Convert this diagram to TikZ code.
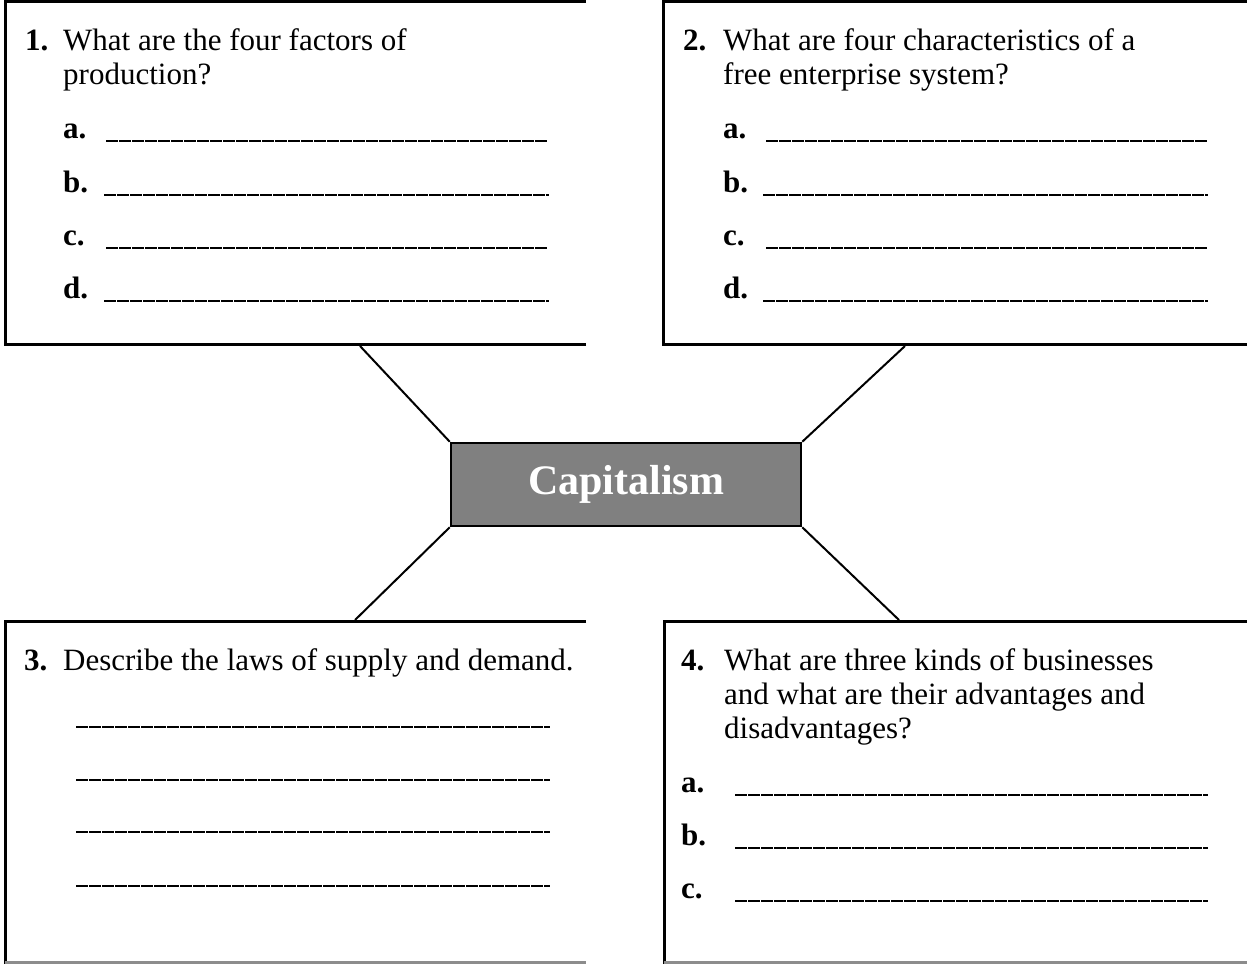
\documentclass[tikz,border=0pt]{standalone}
\usepackage{fontspec}
\setmainfont{Liberation Serif}
\definecolor{coregray}{RGB}{128,128,128}
\definecolor{shadowgray}{RGB}{140,140,140}
\begin{document}
\begin{tikzpicture}[x=1pt,y=-1pt,
  txt/.style={anchor=base west, inner sep=0pt, font=\fontsize{31}{34}\selectfont},
  lbl/.style={anchor=base west, inner sep=0pt, font=\fontsize{31}{34}\selectfont\bfseries},
  blank/.style={line width=1.6pt, black, dash pattern=on 12pt off 1pt},
  frame/.style={line width=3pt, black},
  bottomedge/.style={line width=2.5pt, shadowgray},
  spoke/.style={line width=2pt, black},
  core/.style={draw=black, line width=2.5pt, fill=coregray, minimum width=350pt, minimum height=83pt, inner sep=0pt, text=white, font=\fontsize{42}{46}\selectfont\bfseries}
]
\useasboundingbox (0,0) rectangle (1247,964);
\begin{scope}
\clip (0,0) rectangle (1247,964);
% frames
\draw[frame] (586,344) -- (5,344) -- (5,1.5) -- (586,1.5);
\draw[frame] (1250,1.5) -- (663.5,1.5) -- (663.5,344) -- (1250,344);
\draw[frame] (586,621) -- (5,621) -- (5,964);
\draw[bottomedge] (5,962.7) -- (586,962.7);
\draw[frame] (1250,621) -- (664,621) -- (664,964);
\draw[bottomedge] (664,962.7) -- (1250,962.7);
\end{scope}

% centre
\node[core] (cap) at (626,484.5) {Capitalism};
\coordinate (c1) at (360,346);
\coordinate (c2) at (905,346);
\coordinate (c3) at (355,620);
\coordinate (c4) at (899,620);
\draw[spoke] (cap.north west) -- (c1);
\draw[spoke] (cap.north east) -- (c2);
\draw[spoke] (cap.south west) -- (c3);
\draw[spoke] (cap.south east) -- (c4);

% box 1
\node[lbl] (n1) at (25,50) {1.};
\node[txt] (q1a) at (63,50) {What are the four factors of};
\node[txt] (q1b) at (63,84) {production?};
\node[lbl] (l1a) at (63,138) {a.};
\node[lbl] (l1b) at (63,192) {b.};
\node[lbl] (l1c) at (63,245) {c.};
\node[lbl] (l1d) at (63,298) {d.};
\draw[blank] (106,141) -- (548,141);
\draw[blank] (104,195) -- (549,195);
\draw[blank] (106,248) -- (548,248);
\draw[blank] (104,301) -- (549,301);

% box 2
\node[lbl] (n2) at (683,50) {2.};
\node[txt] (q2a) at (723,50) {What are four characteristics of a};
\node[txt] (q2b) at (723,84) {free enterprise system?};
\node[lbl] (l2a) at (723,138) {a.};
\node[lbl] (l2b) at (723,192) {b.};
\node[lbl] (l2c) at (723,245) {c.};
\node[lbl] (l2d) at (723,298) {d.};
\draw[blank] (766,141) -- (1208,141);
\draw[blank] (763,195) -- (1208,195);
\draw[blank] (766,248) -- (1208,248);
\draw[blank] (763,301) -- (1208,301);

% box 3
\node[lbl] (n3) at (24,670) {3.};
\node[txt] (q3a) at (63,670) {Describe the laws of supply and demand.};
\draw[blank] (76,727) -- (550,727);
\draw[blank] (76,780) -- (550,780);
\draw[blank] (76,832) -- (550,832);
\draw[blank] (76,886) -- (550,886);

% box 4
\node[lbl] (n4) at (681,670) {4.};
\node[txt] (q4a) at (724,670) {What are three kinds of businesses};
\node[txt] (q4b) at (724,704) {and what are their advantages and};
\node[txt] (q4c) at (724,738) {disadvantages?};
\node[lbl] (l4a) at (681,792) {a.};
\node[lbl] (l4b) at (681,845) {b.};
\node[lbl] (l4c) at (681,898) {c.};
\draw[blank] (735,795) -- (1208,795);
\draw[blank] (735,848) -- (1208,848);
\draw[blank] (735,901) -- (1208,901);
\end{tikzpicture}
\end{document}
